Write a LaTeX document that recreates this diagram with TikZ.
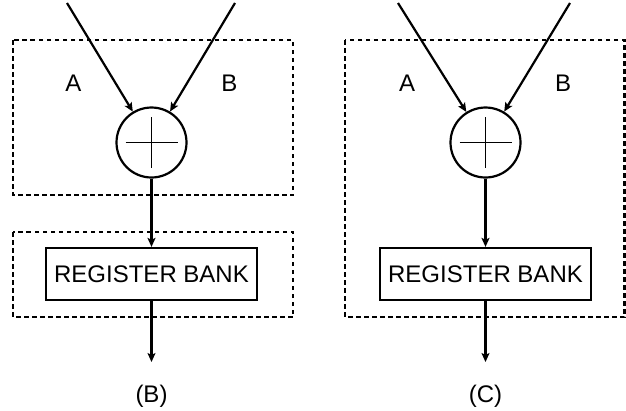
\documentclass[tikz,border=0pt]{standalone}
\usepackage{fontspec}
\setmainfont{Liberation Sans}
\usetikzlibrary{arrows.meta}
\begin{document}
\begin{tikzpicture}[x=1pt,y=-1pt,
  txt/.style={font=\fontsize{24}{28}\selectfont, inner sep=0pt},
  adder/.style={circle, draw, line width=2.2pt, minimum size=70pt, inner sep=0pt},
  regbox/.style={draw, line width=2.2pt, minimum width=211pt, minimum height=52pt, inner sep=0pt, font=\fontsize{24}{28}\selectfont},
  group/.style={draw, dash pattern=on 4.5pt off 3.5pt, line width=2.2pt},
  conn/.style={line width=2.2pt, -{Stealth[length=9pt,width=8pt,inset=2pt]}},
  cross/.style={line width=1.1pt}
]
\useasboundingbox (0,0) rectangle (626,410);

% ---------- Panel B ----------
\draw[group] (13,40) rectangle (293,195);
\draw[group] (13,232) rectangle (293,317);
\node[adder] (sumB) at (151.5,142.5) {};
\draw[cross] ([xshift=-26pt]sumB.center) -- ([xshift=26pt]sumB.center);
\draw[cross] ([yshift=-25pt]sumB.center) -- ([yshift=26pt]sumB.center);
\coordinate (inAB) at (67,3);
\coordinate (inBB) at (235,3);
\draw[conn] (inAB) -- (sumB);
\draw[conn] (inBB) -- (sumB);
\node[txt] (labAB) at (73.5,83.5) {A};
\node[txt] (labBB) at (229.5,83.5) {B};
\node[regbox] (regB) at (151.5,274) {REGISTER BANK};
\draw[conn] (sumB) -- (regB);
\coordinate (outB) at (151.5,362);
\draw[conn] (regB) -- (outB);
\node[txt] (capB) at (151.5,396) {(B)};

% ---------- Panel C ----------
\draw[group] (345,40) rectangle (624.5,317);
\node[adder] (sumC) at (485.5,142.5) {};
\draw[cross] ([xshift=-26pt]sumC.center) -- ([xshift=26pt]sumC.center);
\draw[cross] ([yshift=-25pt]sumC.center) -- ([yshift=26pt]sumC.center);
\coordinate (inAC) at (398,3);
\coordinate (inBC) at (570,3);
\draw[conn] (inAC) -- (sumC);
\draw[conn] (inBC) -- (sumC);
\node[txt] (labAC) at (407,83.5) {A};
\node[txt] (labBC) at (563,83.5) {B};
\node[regbox] (regC) at (485.5,274) {REGISTER BANK};
\draw[conn] (sumC) -- (regC);
\coordinate (outC) at (485.5,362);
\draw[conn] (regC) -- (outC);
\node[txt] (capC) at (485.5,396) {(C)};
\end{tikzpicture}
\end{document}
